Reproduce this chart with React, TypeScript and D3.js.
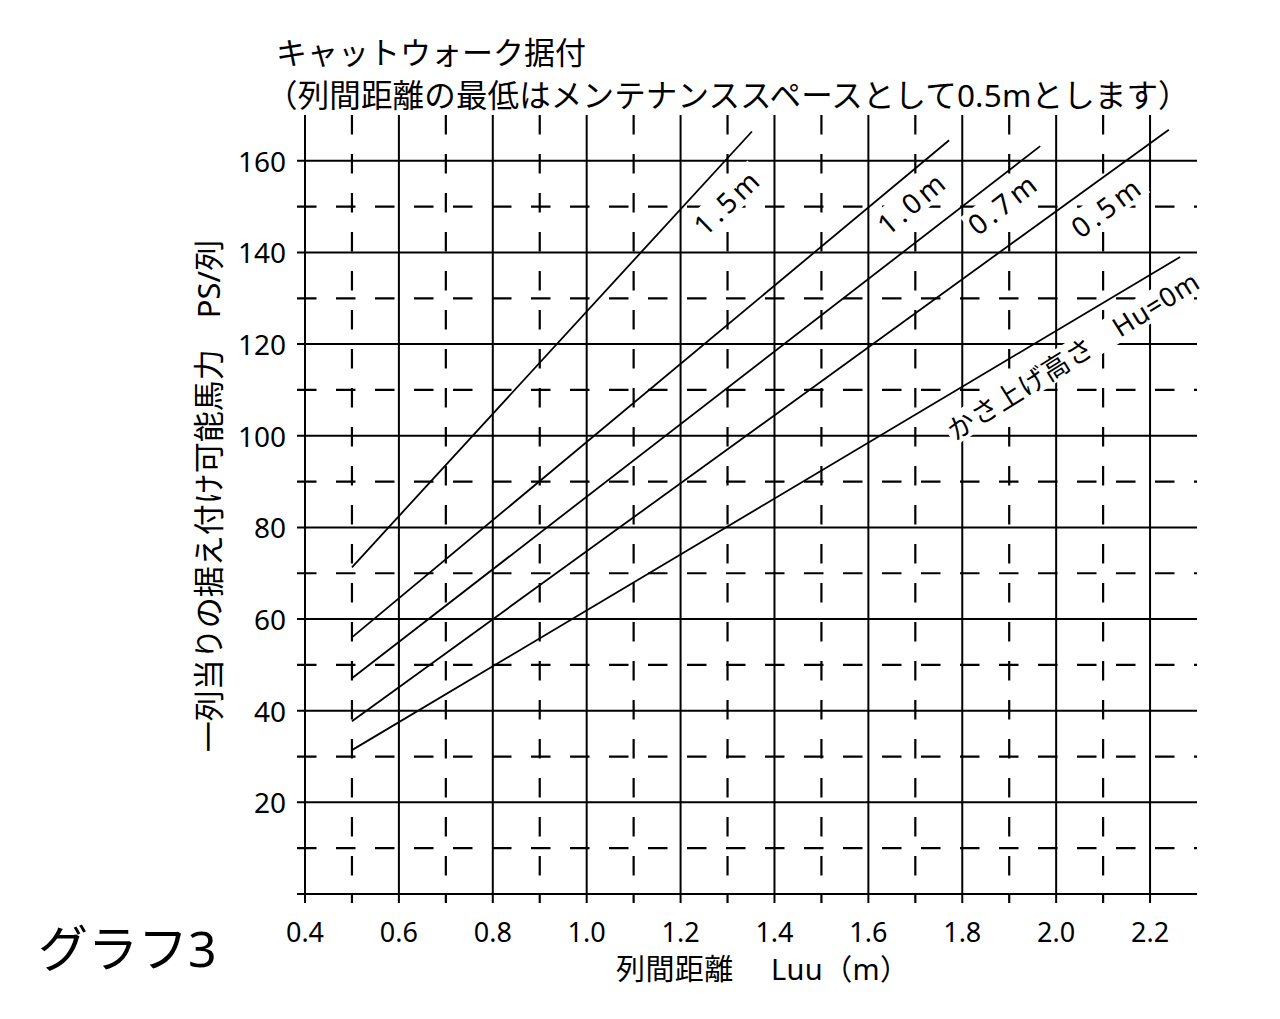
import React, { useEffect, useRef } from "react";
import * as d3 from "d3";

const W = 1280;
const H = 1019;

// Grid / ticks
const xMajorTicks = [0.4, 0.6, 0.8, 1.0, 1.2, 1.4, 1.6, 1.8, 2.0, 2.2];
const xMinorTicks = [0.5, 0.7, 0.9, 1.1, 1.3, 1.5, 1.7, 1.9, 2.1];
const xTickLabels = ["0.4", "0.6", "0.8", "1.0", "1.2", "1.4", "1.6", "1.8", "2.0", "2.2"];
const yMajorTicks = [0, 20, 40, 60, 80, 100, 120, 140, 160];
const yMinorTicks = [10, 30, 50, 70, 90, 110, 130, 150];
const yLabelValues = [20, 40, 60, 80, 100, 120, 140, 160];
const yTickLabels = ["20", "40", "60", "80", "100", "120", "140", "160"];

// Series (catwalk height Hu) : straight lines [Luu, PS]
const seriesNames = ["1.5m", "1.0m", "0.7m", "0.5m", "Hu0"];
const line15: [number, number][] = [[0.5, 71.3], [1.352, 166.4]];
const line10: [number, number][] = [[0.5, 56.0], [1.772, 164.5]];
const line07: [number, number][] = [[0.5, 47.1], [1.966, 163.2]];
const line05: [number, number][] = [[0.5, 37.7], [2.24, 166.8]];
const line00: [number, number][] = [[0.5, 31.4], [2.264, 139.0]];
const seriesLines = [line15, line10, line07, line05, line00];

// Line labels
const labelTexts = ["1.5m", "1.0m", "0.7m", "0.5m", "かさ上げ高さ　Hu=0m"];
const labelX = [1.299, 1.693, 1.887, 2.108, 2.036];
const labelY = [151.2, 151.0, 150.8, 150.1, 117.6];
const labelAngle = [-44, -40, -38, -37, -32];
const labelSpacing = [4, 4, 4, 4, 0.8];
const labelSize = [28, 28, 28, 28, 27];

const titleLine1 = "キャットウォーク据付";
const titleLine2 = "（列間距離の最低はメンテナンススペースとして0.5mとします）";
const xAxisTitle = "列間距離　 Luu（m）";
const yAxisTitle = "一列当りの据え付け可能馬力　PS/列";
const graphName = "グラフ3";

const FONT = "'Noto Sans', 'Noto Sans CJK JP', sans-serif";

export default function App() {
  const ref = useRef<SVGSVGElement | null>(null);

  useEffect(() => {
    document.body.style.margin = "0";
    const svg = d3.select(ref.current);
    svg.selectAll("*").remove();

    const x = d3.scaleLinear().domain([0.4, 2.3]).range([305, 1197]);
    const y = d3.scaleLinear().domain([0, 170]).range([894, 115]);
    const tick = 8;
    const x0 = x(0.4) - tick;
    const x1 = x(2.3);
    const yTop = y(170);
    const yBot = y(0) + 9;

    svg.append("rect").attr("width", W).attr("height", H).attr("fill", "#fff");

    const grid = svg.append("g").attr("stroke", "#000").attr("fill", "none");
    const dash = "19.5 19.5";

    grid.selectAll("line.hmin").data(yMinorTicks).join("line")
      .attr("x1", x0).attr("x2", x1)
      .attr("y1", (d) => y(d)).attr("y2", (d) => y(d))
      .attr("stroke-width", 2.2).attr("stroke-dasharray", dash);
    grid.selectAll("line.vmin").data(xMinorTicks).join("line")
      .attr("x1", (d) => x(d)).attr("x2", (d) => x(d))
      .attr("y1", yTop).attr("y2", yBot)
      .attr("stroke-width", 2.2).attr("stroke-dasharray", dash);
    grid.selectAll("line.hmaj").data(yMajorTicks).join("line")
      .attr("x1", x0).attr("x2", x1)
      .attr("y1", (d) => y(d)).attr("y2", (d) => y(d))
      .attr("stroke-width", 2);
    grid.selectAll("line.vmaj").data(xMajorTicks).join("line")
      .attr("x1", (d) => x(d)).attr("x2", (d) => x(d))
      .attr("y1", yTop).attr("y2", yBot)
      .attr("stroke-width", 2);

    const bgLayer = svg.append("g");
    const lineLayer = svg.append("g");
    const labelLayer = svg.append("g");

    // Label texts
    const txt = labelLayer.selectAll("text").data(labelTexts).join("text")
      .attr("transform", (_d, i) => `translate(${x(labelX[i])},${y(labelY[i])}) rotate(${labelAngle[i]})`)
      .attr("text-anchor", "middle")
      .attr("dominant-baseline", "central")
      .attr("font-family", FONT)
      .attr("font-size", (_d, i) => labelSize[i])
      .attr("letter-spacing", (_d, i) => labelSpacing[i])
      .text((d) => d);

    // White backgrounds behind labels (hide grid)
    txt.each(function (_d, i) {
      const b = (this as SVGTextElement).getBBox();
      bgLayer.append("rect")
        .attr("transform", `translate(${x(labelX[i])},${y(labelY[i])}) rotate(${labelAngle[i]})`)
        .attr("x", b.x - 2).attr("y", b.y + 4).attr("width", b.width + 4).attr("height", b.height - 8)
        .attr("fill", "#fff");
    });

    // Series lines
    const lineGen = d3.line<[number, number]>().x((d) => x(d[0])).y((d) => y(d[1]));
    lineLayer.selectAll("path").data(seriesLines).join("path")
      .attr("d", (d) => lineGen(d))
      .attr("fill", "none").attr("stroke", "#000").attr("stroke-width", 1.8)
      .attr("data-name", (_d, i) => seriesNames[i]);

    // Axis tick labels
    svg.append("g").selectAll("text").data(xMajorTicks).join("text")
      .attr("x", (d) => x(d)).attr("y", 931)
      .attr("text-anchor", "middle").attr("dominant-baseline", "central")
      .attr("font-family", FONT).attr("font-size", 27)
      .text((_d, i) => xTickLabels[i]);
    svg.append("g").selectAll("text").data(yLabelValues).join("text")
      .attr("x", 286).attr("y", (d) => y(d))
      .attr("text-anchor", "end").attr("dominant-baseline", "central")
      .attr("font-family", FONT).attr("font-size", 28)
      .text((_d, i) => yTickLabels[i]);

    // Titles
    svg.append("text").attr("x", 276).attr("y", 52)
      .attr("dominant-baseline", "central").attr("font-family", FONT).attr("font-size", 31)
      .text(titleLine1);
    svg.append("text").attr("x", 266).attr("y", 94)
      .attr("dominant-baseline", "central").attr("font-family", FONT).attr("font-size", 31.5)
      .attr("letter-spacing", 0.15)
      .text(titleLine2);
    svg.append("text").attr("x", 616).attr("y", 968)
      .attr("text-anchor", "start").attr("dominant-baseline", "central")
      .attr("font-family", FONT).attr("font-size", 29)
      .attr("letter-spacing", 0.4)
      .text(xAxisTitle);
    svg.append("text")
      .attr("transform", `translate(208,${496}) rotate(-90)`)
      .attr("text-anchor", "middle").attr("dominant-baseline", "central")
      .attr("font-family", FONT).attr("font-size", 31)
      .text(yAxisTitle);
    svg.append("text").attr("x", 38).attr("y", 948)
      .attr("dominant-baseline", "central").attr("font-family", FONT).attr("font-size", 50)
      .text(graphName);
  }, []);

  return (
    <svg
      ref={ref}
      width={W}
      height={H}
      style={{ position: "absolute", left: 0, top: 0, display: "block" }}
    />
  );
}
